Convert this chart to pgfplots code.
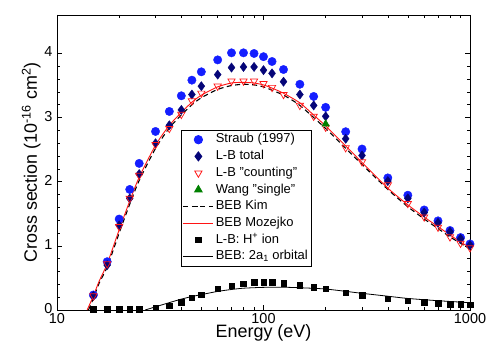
\documentclass[border=0pt]{standalone}
\usepackage{pgfplots}
\pgfplotsset{compat=1.18}
\usepackage{fontspec}
\setmainfont{Liberation Sans}
\definecolor{cblue}{RGB}{20,30,255}
\definecolor{cnavy}{RGB}{5,5,120}
\definecolor{cred}{RGB}{255,20,20}
\definecolor{cgreen}{RGB}{0,128,0}
\newcommand\lf{\fontsize{13}{15}\selectfont}
\pgfplotsset{legend image code/.code={\draw[mark repeat=2,mark phase=2,#1] plot coordinates {(0bp,0bp)(15bp,0bp)(30bp,0bp)};}}
\begin{document}
\begin{tikzpicture}
\path[use as bounding box] (-57bp,-44bp) rectangle (430bp,310bp);
\begin{axis}[
  scale only axis, width=413bp, height=295bp,
  at={(0,0)}, anchor=south west,
  xmode=log, xmin=10, xmax=1000, ymin=0, ymax=4.6,
  xtick={10,100,1000}, xticklabels={10,100,1000},
  ytick={0,1,2,3,4}, yticklabels={0,1,2,3,4}, minor y tick num=4,
  tick align=inside, major tick length=5bp, minor tick length=3bp,
  tick style={black, line width=0.6pt},
  axis line style={line width=0.8pt},
  /pgf/number format/assume math mode=true,
  tick label style={font=\fontsize{14.5}{16}\selectfont},
  xticklabel style={yshift=-2bp, inner ysep=1.5pt},
  yticklabel style={yshift=1.5bp, xshift=-1bp},
  label style={font=\fontsize{18}{20}\selectfont},
  xlabel={Energy (eV)},
  ylabel={Cross section (10\textsuperscript{-16} cm\textsuperscript{2})},
  xlabel style={yshift=2bp, inner ysep=1pt},
  ylabel style={yshift=-3bp},
  legend cell align=left,
  legend style={at={(0.2995,0.61)}, anchor=north west, draw=black, line width=0.6pt,
    font=\lf, row sep=0pt, inner xsep=2pt, inner ysep=1pt,
    nodes={text height=9.5bp, text depth=3bp, inner ysep=2.1bp, inner xsep=2pt}},
  legend image post style={line width=0.8pt},
]
% Straub (1997)
\addplot[only marks, mark=*, mark size=4.2bp, color=cblue] coordinates {
(15,0.234)(17.5,0.753)(20,1.418)(22.5,1.88)(25,2.286)(30,2.784)(35,3.096)(40,3.34)(45,3.584)(50,3.714)(60,3.90)(70,4.01)(80,4.01)(90,4.0)(100,3.95)(110,3.875)(125,3.75)(150,3.52)(175,3.33)(200,3.16)(250,2.78)(300,2.51)(400,2.06)(500,1.79)(600,1.56)(700,1.39)(800,1.24)(900,1.13)(1000,1.03)};
\addlegendentry{\lf Straub (1997)}
% L-B total
\addplot[only marks, mark=diamond*, mark size=4.6bp, color=cnavy] coordinates {
(15,0.218)(17.5,0.70)(20,1.32)(22.5,1.74)(25,2.12)(30,2.60)(35,2.88)(40,3.12)(45,3.36)(50,3.49)(60,3.67)(70,3.78)(80,3.79)(90,3.79)(100,3.74)(110,3.69)(125,3.56)(150,3.36)(175,3.19)(200,3.02)(250,2.67)(300,2.41)(400,2.01)(500,1.74)(600,1.52)(700,1.36)(800,1.22)(900,1.11)(1000,1.01)};
\addlegendentry{\lf L-B total}
% L-B counting
\addplot[only marks, mark=triangle, mark options={rotate=180, fill=white}, mark size=4.2bp, color=cred, line width=0.7pt] coordinates {
(15,0.22)(17.5,0.72)(20,1.30)(22.5,1.74)(25,2.10)(30,2.58)(35,2.83)(40,3.05)(45,3.26)(50,3.38)(60,3.49)(70,3.57)(80,3.57)(90,3.57)(100,3.53)(110,3.47)(125,3.36)(150,3.19)(175,3.02)(200,2.85)(250,2.53)(300,2.31)(400,1.95)(500,1.66)(600,1.45)(700,1.29)(800,1.14)(900,1.04)(1000,0.97)};
\addlegendentry{\lf L-B "counting"}
% Wang single
\addplot[only marks, mark=triangle*, mark size=4.4bp, color=cgreen] coordinates {(200,2.90)};
\addlegendentry{\lf Wang "single"}
% BEB Kim
\addplot[black, line width=1.1pt, dash pattern=on 5bp off 3.5bp, smooth, tension=0.4] coordinates {
(14.2,0)(15,0.18)(16,0.42)(17.5,0.67)(20,1.20)(22.5,1.65)(25,2.02)(30,2.52)(35,2.84)(40,3.04)(45,3.20)(50,3.31)(60,3.44)(70,3.50)(80,3.52)(90,3.51)(100,3.48)(125,3.35)(150,3.19)(200,2.83)(250,2.52)(300,2.27)(400,1.88)(500,1.61)(600,1.42)(700,1.27)(800,1.14)(900,1.04)(1000,0.95)};
\addlegendentry{\lf BEB Kim}
% BEB Mozejko
\addplot[cred, line width=0.9pt, smooth, tension=0.4] coordinates {
(14.0,0)(15,0.22)(16,0.45)(17.5,0.72)(20,1.25)(22.5,1.70)(25,2.07)(30,2.57)(35,2.88)(40,3.08)(45,3.24)(50,3.35)(60,3.48)(70,3.54)(80,3.55)(90,3.54)(100,3.51)(110,3.46)(125,3.38)(150,3.23)(175,3.04)(200,2.87)(250,2.56)(300,2.30)(400,1.90)(500,1.64)(600,1.45)(700,1.30)(800,1.17)(900,1.06)(1000,0.97)};
\addlegendentry{\lf BEB Mozejko}
% L-B: H+ ion
\addplot[only marks, mark=square*, mark size=2.8bp, black] coordinates {
(15,0.015)(17.5,0.015)(20,0.015)(22.5,0.015)(25,0.015)(30,0.036)(35,0.07)(40,0.125)(45,0.19)(50,0.24)(60,0.33)(70,0.38)(80,0.41)(90,0.43)(100,0.43)(110,0.43)(125,0.415)(150,0.385)(175,0.36)(200,0.33)(250,0.27)(300,0.23)(400,0.177)(500,0.145)(600,0.12)(700,0.104)(800,0.094)(900,0.088)(1000,0.083)};
\addlegendentry{\lf L-B: H\textsuperscript{+} ion}
% BEB 2a1
\addplot[black, line width=0.8pt, smooth, tension=0.4] coordinates {
(26.7,0)(28,0.02)(30,0.05)(35,0.115)(40,0.17)(45,0.21)(50,0.24)(60,0.29)(70,0.32)(80,0.34)(100,0.353)(125,0.355)(150,0.347)(200,0.327)(300,0.26)(400,0.215)(500,0.18)(700,0.145)(1000,0.114)};
\addlegendentry{\lf BEB: 2a\textsubscript{1} orbital}
\end{axis}
\end{tikzpicture}
\end{document}
